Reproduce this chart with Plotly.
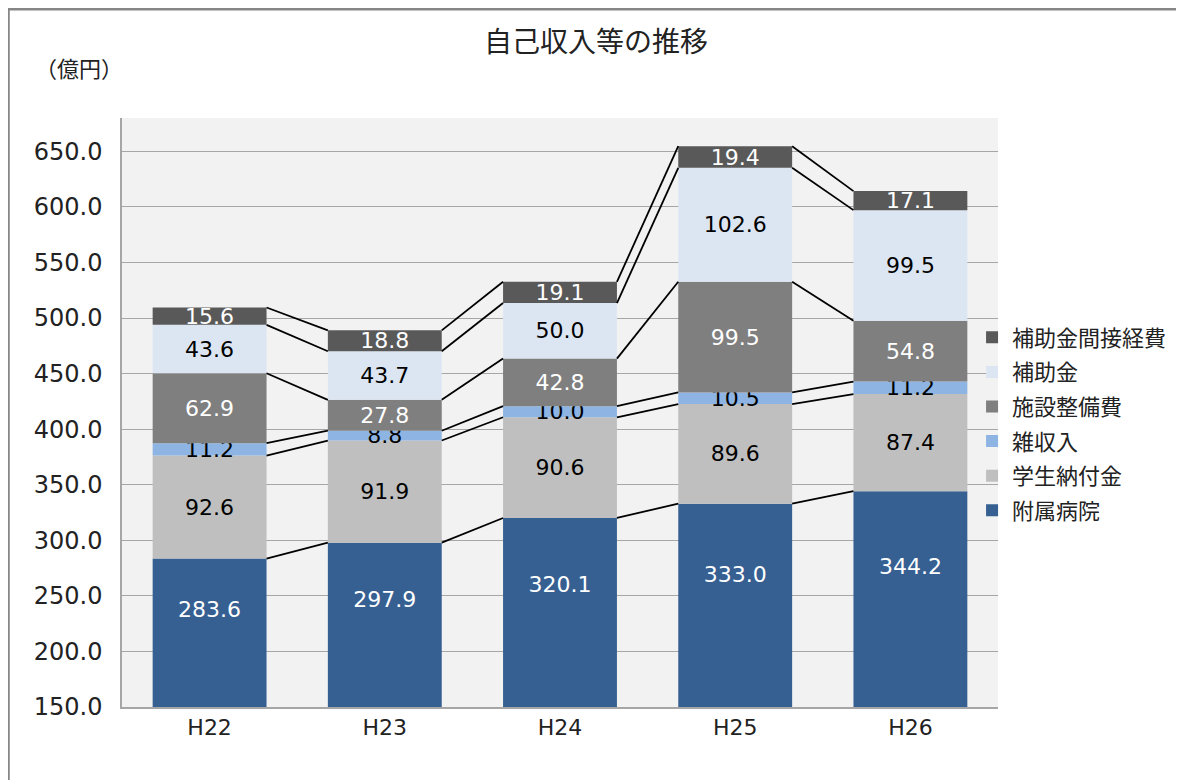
import plotly.graph_objects as go

categories = ["H22", "H23", "H24", "H25", "H26"]
series_names = ["附属病院", "学生納付金", "雑収入", "施設整備費", "補助金", "補助金間接経費"]
hospital = [283.6, 297.9, 320.1, 333.0, 344.2]
tuition = [92.6, 91.9, 90.6, 89.6, 87.4]
misc = [11.2, 8.8, 10.0, 10.5, 11.2]
facility = [62.9, 27.8, 42.8, 99.5, 54.8]
subsidy = [43.6, 43.7, 50.0, 102.6, 99.5]
indirect = [15.6, 18.8, 19.1, 19.4, 17.1]

series_values = [hospital, tuition, misc, facility, subsidy, indirect]
colors = ["#366092", "#bfbfbf", "#8db4e2", "#7f7f7f", "#dce6f2", "#595959"]
text_colors = ["white", "black", "black", "white", "black", "white"]

NUMFONT = "DejaVu Sans"
JPFONT = "Noto Sans CJK JP"
Y_MIN, Y_MAX = 150, 680
xs = list(range(len(categories)))
bar_w = 0.65

fig = go.Figure()
cum = [0.0] * len(categories)
tops = []
n_series = len(series_names)
for k, (name, vals, col, tcol) in enumerate(zip(series_names, series_values, colors, text_colors)):
    fig.add_trace(go.Bar(
        x=xs, y=vals, base=cum[:], name=name, width=bar_w, legendgroup=name,
        legendrank=100 * (n_series - k),
        marker=dict(color=col, line=dict(width=0)),
        text=None if k == 0 else [f"{v:.1f}" for v in vals],
        textposition="inside", insidetextanchor="middle", textangle=0,
        textfont=dict(color=tcol, size=22, family=NUMFONT),
        hoverinfo="skip",
    ))
    cum = [c + v for c, v in zip(cum, vals)]
    tops.append(cum[:])

# labels of the bottom series, placed inside the visible (clipped) part of the bar
fig.add_trace(go.Scatter(
    x=xs, y=[Y_MIN + 0.64 * (v - Y_MIN) for v in hospital], mode="text",
    text=[f"{v:.1f}" for v in hospital], textposition="middle center",
    textfont=dict(color="white", size=22, family=NUMFONT),
    showlegend=False, hoverinfo="skip"))

# series (connector) lines between bar tops
for top in tops:
    lx, ly = [], []
    for i in range(len(categories) - 1):
        lx += [xs[i] + bar_w / 2, xs[i + 1] - bar_w / 2, None]
        ly += [top[i], top[i + 1], None]
    fig.add_trace(go.Scatter(x=lx, y=ly, mode="lines", line=dict(color="black", width=1.8),
                             showlegend=False, hoverinfo="skip"))

W, H = 1176, 772
L, R, T, B = 114, 992, 110, 699
pw, ph = R - L, B - T

fig.update_layout(
    barmode="overlay",
    width=W, height=H,
    margin=dict(l=L, r=W - R, t=T, b=H - B),
    paper_bgcolor="white", plot_bgcolor="#f2f2f2",
    font=dict(family=f"{NUMFONT}, {JPFONT}", size=20, color="#222222"),
    title=dict(text="自己収入等の推移", x=(596 - 8) / W, xanchor="center", y=1 - 34 / H, yanchor="middle",
               yref="container", font=dict(size=28, family=JPFONT, color="#222222")),
    uniformtext=dict(minsize=22, mode="show"),
    legend=dict(traceorder="grouped", x=(966 - L) / pw, xanchor="left", y=(B - 416) / ph,
                yanchor="middle",
                bgcolor="rgba(0,0,0,0)", font=dict(size=22, family=JPFONT, color="#222222"),
                itemwidth=30, tracegroupgap=3),
    showlegend=True,
)
fig.update_xaxes(range=[-0.5, len(categories) - 0.5], tickvals=xs, ticktext=categories,
                 showgrid=False, showline=True, linecolor="#a6a6a6", linewidth=1.5,
                 ticks="", tickfont=dict(size=22, family=NUMFONT, color="#222222"), zeroline=False)
fig.update_yaxes(range=[Y_MIN, Y_MAX], dtick=50, tick0=150, tickformat=".1f",
                 showgrid=True, gridcolor="#a6a6a6", gridwidth=1,
                 showline=True, linecolor="#a6a6a6", linewidth=1.5, zeroline=False,
                 ticks="", ticklabelstandoff=13,
                 tickfont=dict(size=24, family=NUMFONT, color="#222222"))

fig.add_annotation(text="（億円）", xref="paper", yref="paper", x=(71 - L) / pw, y=(B - 59) / ph,
                   xanchor="center", yanchor="middle", showarrow=False,
                   font=dict(size=22, family=JPFONT, color="#222222"))
fig.add_shape(type="rect", xref="paper", yref="paper",
              x0=(0 - L) / pw, x1=(1200 - L) / pw, y0=(B - 820) / ph, y1=(B - 1) / ph,
              line=dict(color="#868686", width=3), fillcolor="rgba(0,0,0,0)", layer="below")

fig.write_html("out.html")
